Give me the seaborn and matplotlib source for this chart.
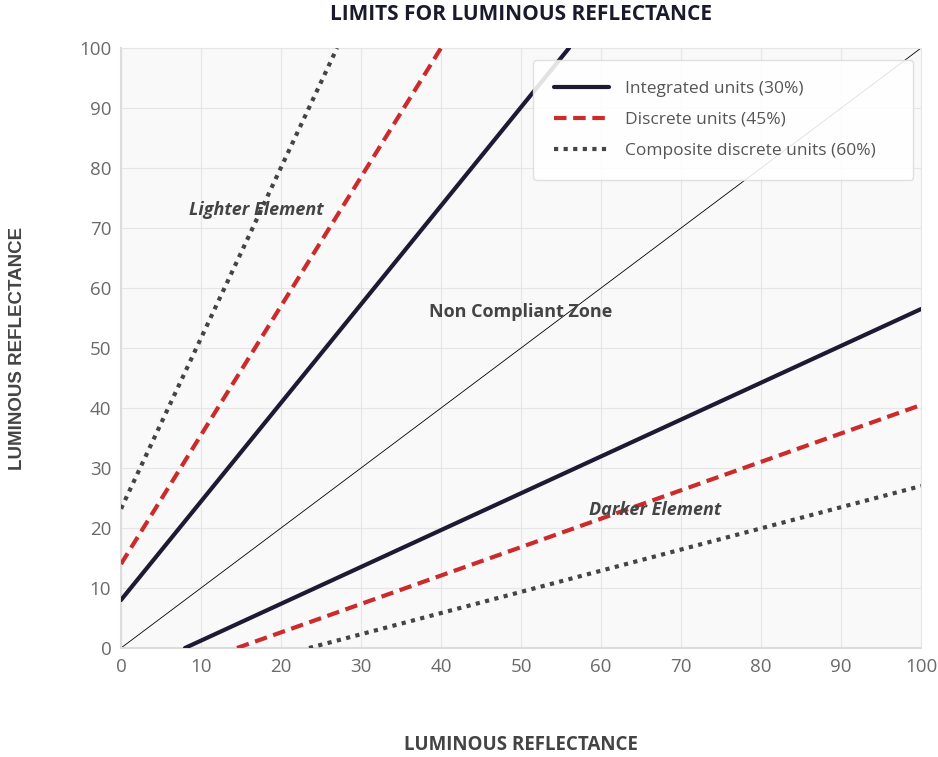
import matplotlib
matplotlib.use("Agg")
import matplotlib.pyplot as plt
import seaborn as sns
import pandas as pd

# === data ===
series_names = ["Integrated units (30%)", "Discrete units (45%)", "Composite discrete units (60%)"]
series_colors = ["#1c1b33", "#cc2b2b", "#444444"]
series_styles = ["-", (0, (3, 1.6)), (0, (1.0, 1.3))]

# upper (lighter) limit lines: x, y endpoints
upper_x = [[0, 56], [0, 40], [0, 27]]
upper_y = [[8, 100], [14, 100], [23.2, 100]]
# lower (darker) limit lines
lower_x = [[8, 100], [14.5, 100], [23.5, 100]]
lower_y = [[0, 56.5], [0, 40.5], [0, 27]]

diag_x = [0, 100]
diag_y = [0, 100]

labels_txt = ["Lighter Element", "Non Compliant Zone", "Darker Element"]
labels_pos = [(16.9, 73), (50, 56), (66.8, 23)]
labels_style = ["italic", "normal", "italic"]

# === style ===
sns.set_theme(style="whitegrid")
plt.rcParams["font.family"] = ["Open Sans", "DejaVu Sans"]

fig = plt.figure(figsize=(9.38, 7.57), dpi=100)
ax = fig.add_axes([0.129, 0.144, 0.853, 0.7926])
ax.set_facecolor("#f9f9f9")

for i, name in enumerate(series_names):
    up = pd.DataFrame({"x": upper_x[i], "y": upper_y[i]})
    lo = pd.DataFrame({"x": lower_x[i], "y": lower_y[i]})
    sns.lineplot(data=up, x="x", y="y", ax=ax, color=series_colors[i],
                 linestyle=series_styles[i], linewidth=3, label=name, zorder=3)
    sns.lineplot(data=lo, x="x", y="y", ax=ax, color=series_colors[i],
                 linestyle=series_styles[i], linewidth=3, label="_nolegend_", zorder=3)

sns.lineplot(x=diag_x, y=diag_y, ax=ax, color="black", linewidth=0.6,
             label="_nolegend_", zorder=2)

for txt, (tx, ty), st in zip(labels_txt, labels_pos, labels_style):
    ax.text(tx, ty, txt, ha="center", va="center", fontsize=13,
            fontweight="bold", fontstyle=st, color="#444444", zorder=4)

ax.set_xlim(0, 100)
ax.set_ylim(0, 100)
ax.set_xticks(range(0, 101, 10))
ax.set_yticks(range(0, 101, 10))
ax.tick_params(axis="both", labelsize=13.5, labelcolor="#6a6a6a", length=0, pad=7)
ax.grid(True, color="#e6e6e6", linewidth=0.8)
for side in ["top", "right"]:
    ax.spines[side].set_color("#e6e6e6")
    ax.spines[side].set_linewidth(0.8)
for side in ["left", "bottom"]:
    ax.spines[side].set_color("#dcdcdc")
    ax.spines[side].set_linewidth(1.5)

ax.set_xlabel("")
ax.set_ylabel("")
fig.text(0.555, 0.995, "LIMITS FOR LUMINOUS REFLECTANCE", ha="center", va="top",
         fontsize=15, fontweight="bold", color="#1a1a2e")
fig.text(0.555, 0.003, "LUMINOUS REFLECTANCE", ha="center", va="bottom",
         fontsize=13.5, fontweight="bold", color="#444444")
fig.text(0.019, 0.54, "LUMINOUS REFLECTANCE", ha="center", va="center",
         rotation=90, fontsize=13.5, fontweight="bold", color="#444444",
         family=["Liberation Sans", "DejaVu Sans"])

leg = ax.legend(loc="upper left", bbox_to_anchor=(0.515, 0.98, 0.475, 0.0),
                mode="expand", fontsize=12.5, frameon=True, fancybox=True,
                handlelength=3.2, borderpad=1.2, labelspacing=0.85,
                handletextpad=0.9, borderaxespad=0)
leg.get_frame().set_facecolor("white")
leg.get_frame().set_edgecolor("#dddddd")
leg.get_frame().set_alpha(0.88)
for t in leg.get_texts():
    t.set_color("#555555")

fig.savefig("out.png", dpi=100)
